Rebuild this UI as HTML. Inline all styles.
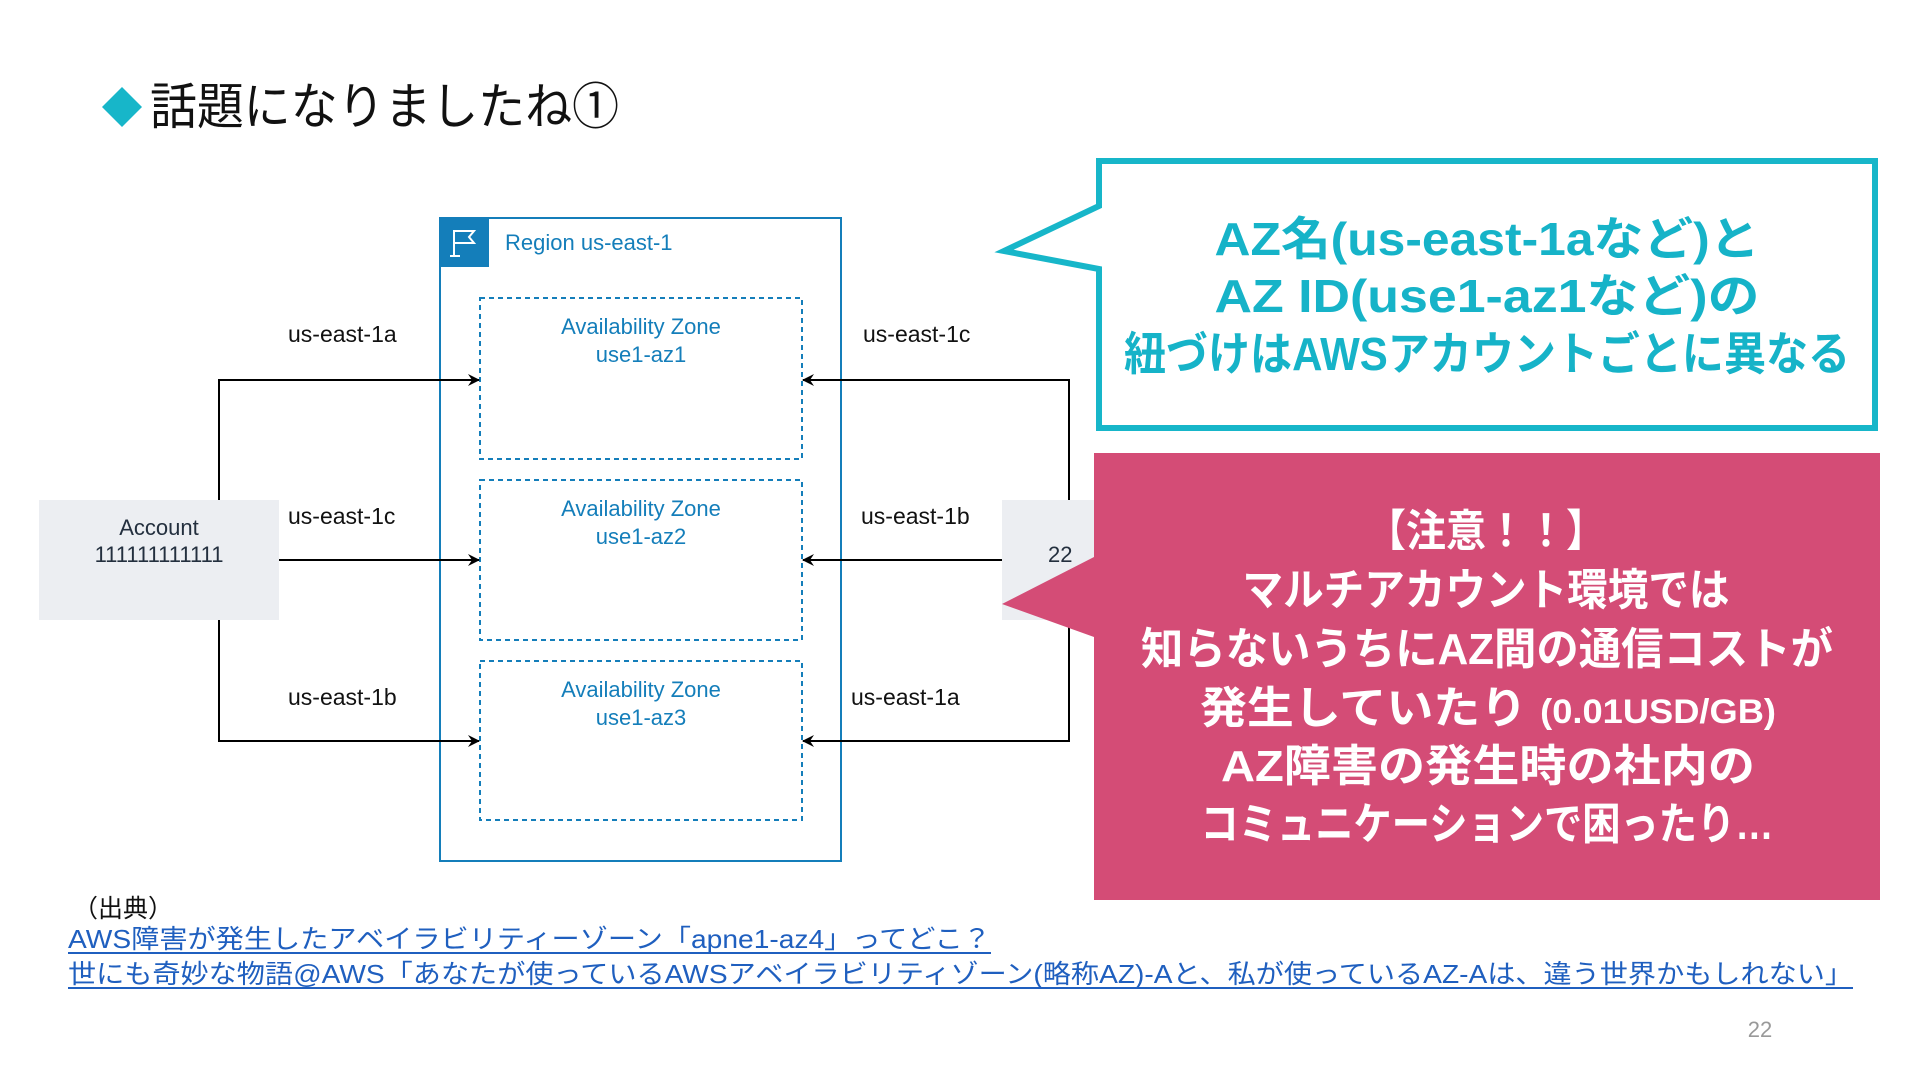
<!DOCTYPE html>
<html><head><meta charset="utf-8"><style>
html,body{margin:0;padding:0;background:#fff;width:1920px;height:1080px;overflow:hidden}
svg{display:block}
.j{font-family:"Liberation Sans","Noto Sans CJK JP",sans-serif}
</style></head><body>
<svg width="1920" height="1080" viewBox="0 0 1920 1080" xmlns="http://www.w3.org/2000/svg" class="j">
<defs>
<marker id="ar" viewBox="0 0 12 12" refX="11" refY="6" markerWidth="12" markerHeight="12" markerUnits="userSpaceOnUse" orient="auto">
<path d="M0,0 L12,6 L0,12 L4,6 Z" fill="#000"/></marker>
</defs>
<polygon points="122,87 142,107 122,127 102,107" fill="#17b6c9"/>
<text x="150" y="124" font-size="50" fill="#111" textLength="469" lengthAdjust="spacingAndGlyphs">話題になりましたね①</text>

<rect x="39" y="500" width="240" height="120" fill="#eceef2"/>
<text x="159" y="535" font-size="22" fill="#232f3e" text-anchor="middle">Account</text>
<text x="159" y="562" font-size="22" fill="#232f3e" text-anchor="middle">111111111111</text>
<rect x="1002" y="500" width="200" height="120" fill="#eceef2"/>
<text x="1048" y="562" font-size="22" fill="#232f3e">22</text>

<rect x="440" y="218" width="401" height="643" fill="none" stroke="#147eba" stroke-width="2"/>
<rect x="440" y="218" width="49" height="49" fill="#147eba"/>
<path d="M454,230 V256 M454,231 H474 L469,237 L474,243 H454 M450,256 H460" stroke="#fff" stroke-width="2" fill="none"/>
<text x="505" y="250" font-size="22" fill="#147eba">Region us-east-1</text>

<g fill="none" stroke="#147eba" stroke-width="2" stroke-dasharray="5,4">
<rect x="480" y="298" width="322" height="161"/>
<rect x="480" y="480" width="322" height="160"/>
<rect x="480" y="661" width="322" height="159"/>
</g>
<g font-size="22" fill="#147eba" text-anchor="middle">
<text x="641" y="334">Availability Zone</text><text x="641" y="362">use1-az1</text>
<text x="641" y="516">Availability Zone</text><text x="641" y="544">use1-az2</text>
<text x="641" y="697">Availability Zone</text><text x="641" y="725">use1-az3</text>
</g>

<g stroke="#000" stroke-width="2" fill="none">
<path d="M219,500 V380 H479" marker-end="url(#ar)"/>
<path d="M279,560 H479" marker-end="url(#ar)"/>
<path d="M219,620 V741 H479" marker-end="url(#ar)"/>
<path d="M1069,500 V380 H803" marker-end="url(#ar)"/>
<path d="M1002,560 H803" marker-end="url(#ar)"/>
<path d="M1069,620 V741 H803" marker-end="url(#ar)"/>
</g>
<g font-size="23" fill="#111">
<text x="288" y="342">us-east-1a</text>
<text x="288" y="524">us-east-1c</text>
<text x="288" y="705">us-east-1b</text>
<text x="863" y="342">us-east-1c</text>
<text x="861" y="524">us-east-1b</text>
<text x="851" y="705">us-east-1a</text>
</g>

<path d="M1099,161 H1875 V428 H1099 V269 L1004,251 L1099,206 Z" fill="#fff" stroke="#17b6c9" stroke-width="6"/>
<g font-size="46" font-weight="bold" fill="#16b3c8" text-anchor="middle" lengthAdjust="spacingAndGlyphs">
<text x="1487" y="255" textLength="545" lengthAdjust="spacingAndGlyphs">AZ名(us-east-1aなど)と</text>
<text x="1487" y="312" textLength="545" lengthAdjust="spacingAndGlyphs">AZ ID(use1-az1など)の</text>
<text x="1487" y="370" textLength="726" lengthAdjust="spacingAndGlyphs">紐づけはAWSアカウントごとに異なる</text>
</g>

<path d="M1094,453 H1880 V900 H1094 V637 L1002,604 L1094,557 Z" fill="#d44c76"/>
<g font-size="44" font-weight="bold" fill="#fff" text-anchor="middle">
<text x="1486" y="546" textLength="240" lengthAdjust="spacingAndGlyphs">【注意！！】</text>
<text x="1486" y="605" textLength="487" lengthAdjust="spacingAndGlyphs">マルチアカウント環境では</text>
<text x="1487" y="664" textLength="692" lengthAdjust="spacingAndGlyphs">知らないうちにAZ間の通信コストが</text>
<text x="1488" y="723" textLength="576" lengthAdjust="spacingAndGlyphs">発生していたり <tspan font-size="34">(0.01USD/GB)</tspan></text>
<text x="1488" y="781" textLength="534" lengthAdjust="spacingAndGlyphs">AZ障害の発生時の社内の</text>
<text x="1487" y="839" textLength="573" lengthAdjust="spacingAndGlyphs">コミュニケーションで困ったり…</text>
</g>

<text x="73" y="917" font-size="25" fill="#111">（出典）</text>
<text x="68" y="948" font-size="26" fill="#1f5fbf" textLength="923" lengthAdjust="spacingAndGlyphs">AWS障害が発生したアベイラビリティーゾーン「apne1-az4」ってどこ？</text>
<line x1="68" y1="953" x2="991" y2="953" stroke="#1f5fbf" stroke-width="2"/>
<text x="68" y="983" font-size="26" fill="#1f5fbf" textLength="1785" lengthAdjust="spacingAndGlyphs">世にも奇妙な物語@AWS「あなたが使っているAWSアベイラビリティゾーン(略称AZ)-Aと、私が使っているAZ-Aは、違う世界かもしれない」</text>
<line x1="68" y1="988" x2="1853" y2="988" stroke="#1f5fbf" stroke-width="2"/>
<text x="1760" y="1037" font-size="22" fill="#999" text-anchor="middle">22</text>
</svg>
</body></html>
